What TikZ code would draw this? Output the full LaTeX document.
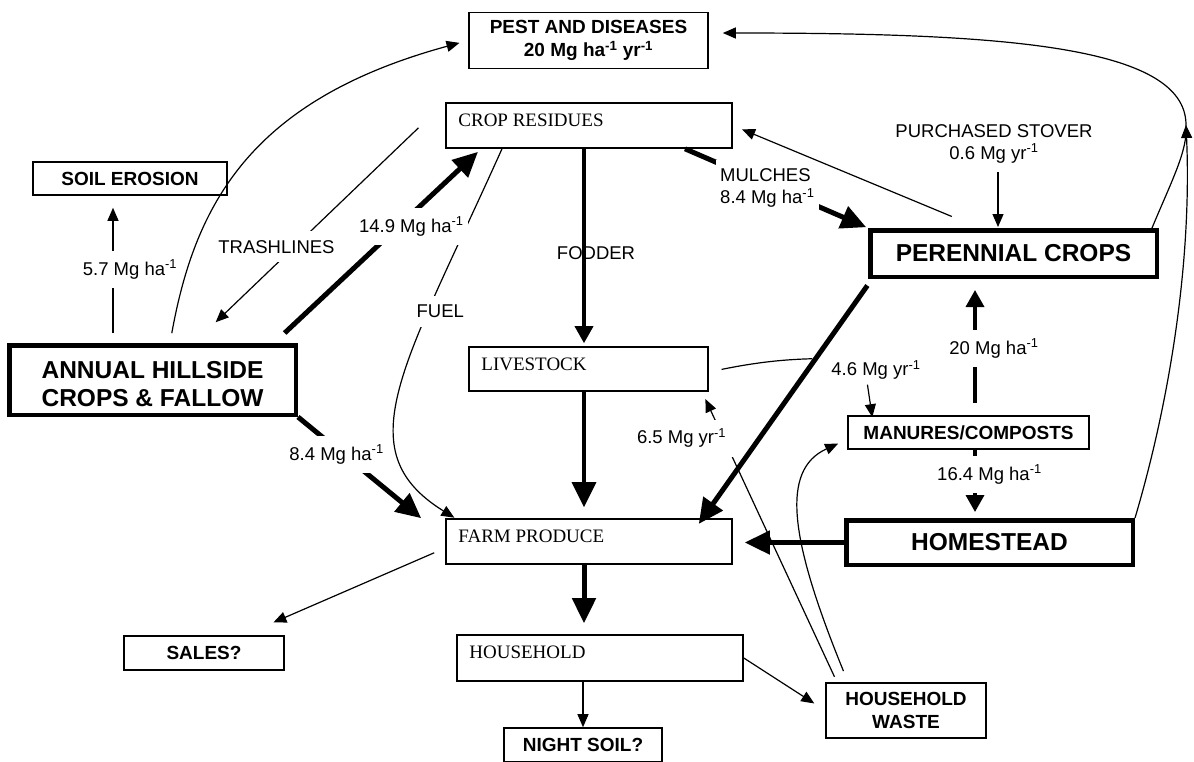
\documentclass[tikz,border=0pt]{standalone}
\usepackage{fontspec}
\setmainfont{Liberation Serif}
\newfontfamily\arial{Liberation Sans}
\usetikzlibrary{arrows.meta}

\tikzset{
  box/.style={draw, line width=1.6pt, inner sep=0pt, align=center,
    font=\arial\bfseries\fontsize{19}{23}\selectfont},
  bigbox/.style={draw, line width=4.5pt, inner sep=0pt, align=center,
    font=\arial\bfseries\fontsize{24.5}{28}\selectfont},
  tbox/.style={draw, line width=1.6pt, inner sep=0pt},
  ttext/.style={font=\fontsize{19}{22}\selectfont, anchor=west, inner sep=0pt,
    xshift=13pt, yshift=-18.5pt},
  lbl/.style={font=\arial\fontsize{18.5}{22}\selectfont, inner sep=2pt},
  brk/.style={lbl, fill=white, inner xsep=4pt, inner ysep=9pt},
  flowline/.style={line width=1.2pt},
  flow/.style={line width=1.2pt, -{Triangle[length=13pt, width=11pt]}},
  medflow/.style={line width=3.5pt, -{Triangle[length=17pt, width=18pt]}},
  bigflow/.style={line width=5pt, -{Triangle[length=25pt, width=23pt]}}
}

\begin{document}
\begin{tikzpicture}[x=1pt, y=-1pt]
\useasboundingbox (0,0) rectangle (1194,761);
\clip (0,0) rectangle (1194,761);

% main compartments
\node[bigbox, minimum width=286.5pt, minimum height=69.5pt,
  label={[font=\arial\bfseries\fontsize{24.5}{28}\selectfont, align=center, yshift=-4pt]center:ANNUAL HILLSIDE\\CROPS \& FALLOW}] (annual) at (152.5,380) {};
\node[bigbox, minimum width=286.5pt, minimum height=46.5pt] (perennial) at (1013.5,253.5) {PERENNIAL CROPS};
\node[bigbox, minimum width=286.5pt, minimum height=44.5pt] (homestead) at (989.5,542.5) {HOMESTEAD};

% pools
\node[tbox, minimum width=286pt, minimum height=45pt, label={[ttext]north west:CROP RESIDUES}] (cropres) at (589,125.5) {};
\node[tbox, minimum width=239pt, minimum height=44pt, label={[ttext]north west:LIVESTOCK}] (livestock) at (588.5,369) {};
\node[tbox, minimum width=286pt, minimum height=45pt, label={[ttext]north west:FARM PRODUCE}] (farm) at (589,541.5) {};
\node[tbox, minimum width=286pt, minimum height=46pt, label={[ttext]north west:HOUSEHOLD}] (household) at (600,658) {};

% sinks and sources
\node[box, minimum width=239pt, minimum height=56pt] (pest) at (588.5,40.5) {PEST AND DISEASES\\20 Mg ha\textsuperscript{-1} yr\textsuperscript{-1}};
\node[box, minimum width=194pt, minimum height=33pt] (soil) at (130,178.5) {SOIL EROSION};
\node[box, minimum width=241pt, minimum height=33pt] (manures) at (968.5,432.5) {MANURES/COMPOSTS};
\node[box, minimum width=160pt, minimum height=34pt] (sales) at (204,653) {SALES?};
\node[box, minimum width=160pt, minimum height=55pt] (waste) at (906,710.5) {HOUSEHOLD\\WASTE};
\node[box, minimum width=158pt, minimum height=34pt] (nightsoil) at (583,745) {NIGHT SOIL?};

\node[lbl, align=center] (stover) at (994,143.5) {PURCHASED STOVER\\0.6 Mg yr\textsuperscript{-1}};
\node[lbl] (l46) at (876,370) {4.6 Mg yr\textsuperscript{-1}};
\coordinate (pk) at (1186,125);

% fuel first, the 14.9 label covers it
\draw[flow, shorten >=1pt] ([xshift=-87pt]cropres.south) .. controls (405,365) and (345,450) .. ([xshift=10pt]farm.north west)
  node[brk, pos=.3, xshift=12pt] (fuel) {FUEL};

% hillside flows
\draw[flow, shorten <=10pt, shorten >=12pt] ([xshift=-39.5pt]annual.north) -- ([xshift=-17pt]soil.south)
  node[brk, pos=.5, xshift=17pt] (l57) {5.7 Mg ha\textsuperscript{-1}};
\draw[flow, shorten <=10pt, shorten >=9pt] ([xshift=17.5pt]annual.north) .. controls (195,205) and (250,100) .. (pest.west);
\draw[flow, shorten <=37pt, shorten >=30pt] (cropres.north west) -- ([xshift=41.5pt]annual.north)
  node[brk, pos=.6, xshift=-18pt] (trash) {TRASHLINES};
\draw[bigflow, shorten <=14.6pt, shorten >=4.4pt] ([xshift=-24pt]annual.north east) -- ([xshift=36pt]cropres.south west)
  node[brk, pos=.6, xshift=13pt] (l149) {14.9 Mg ha\textsuperscript{-1}};
\draw[bigflow] (annual.south east) -- ([xshift=-24pt]farm.north west)
  node[brk, pos=.37, xshift=-7pt] (l84) {8.4 Mg ha\textsuperscript{-1}};

% residues
\draw[medflow, shorten >=3pt] ([xshift=-5pt]cropres.south) -- ([xshift=-4.5pt]livestock.north)
  node[lbl, pos=.53, xshift=12pt] (fodder) {FODDER};
\draw[medflow, -{Triangle[length=25pt, width=24pt]}, shorten >=11pt] ([xshift=-4.5pt]livestock.south) -- ([xshift=-5pt]farm.north);
\draw[bigflow, shorten >=2pt] ([xshift=96pt]cropres.south) -- (perennial.north west)
  node[brk, align=left, pos=.45, yshift=-4pt] (mulch) {MULCHES\\8.4 Mg ha\textsuperscript{-1}};

% perennial crops
\draw[flow, shorten <=30pt, shorten >=10pt] ([xshift=-34pt]perennial.north) -- (cropres.east);
\draw[flow, shorten <=7pt, shorten >=1pt] ([xshift=4pt]stover.south) -- ([xshift=-15.5pt]perennial.north);
\draw[flow, shorten >=14pt] ([xshift=-7pt]perennial.north east) .. controls (1172,180) and (1188,150) .. (pk)
  .. controls (1186,45) and (1000,33) .. ([yshift=7.5pt]pest.east);
\draw[flow] (homestead.north east) .. controls (1170,400) and (1192,260) .. (pk);
\draw[bigflow, shorten <=8pt, shorten >=-7pt] ([xshift=4pt]perennial.south west) -- ([xshift=-30pt]farm.north east);

% manures
\draw[medflow, shorten <=12pt, shorten >=11pt] ([xshift=6.5pt]manures.north) -- ([xshift=-38.5pt]perennial.south)
  node[brk, pos=.49, xshift=19pt] (l20) {20 Mg ha\textsuperscript{-1}};
\draw[medflow, shorten >=6pt] ([xshift=6.5pt]manures.south) -- ([xshift=-14.5pt]homestead.north)
  node[brk, pos=.36, xshift=14.5pt] (l164) {16.4 Mg ha\textsuperscript{-1}};
\draw[flowline, shorten <=13pt, shorten >=17pt] ([yshift=-3pt]livestock.east) to[bend left=5] (l46.north west);
\draw[flow, shorten <=3pt, shorten >=-2pt] ([xshift=-9pt]l46.south) -- ([xshift=-96.5pt]manures.north);

% household waste
\draw[flow, shorten <=6pt, shorten >=8pt] ([xshift=-69pt]waste.north) -- ([xshift=113.5pt]livestock.south)
  node[brk, pos=.84, xshift=-42pt, inner xsep=8pt] (l65) {6.5 Mg yr\textsuperscript{-1}};
\draw[flow, shorten <=12pt, shorten >=10pt] ([xshift=-58pt]waste.north) .. controls (790,540) and (780,470) .. ([yshift=-7pt]manures.west);

% produce
\draw[bigflow, shorten >=12pt] (homestead.west) -- (homestead.west -| farm.east);
\draw[flow, shorten <=12pt, shorten >=32pt] ([yshift=-6.5pt]farm.west) -- ([xshift=40pt]sales.north);
\draw[bigflow, shorten >=11pt] ([xshift=-5pt]farm.south) -- ([xshift=-16pt]household.north);
\draw[flow] ([xshift=-17pt]household.south) -- (nightsoil.north);
\draw[flow, shorten >=13pt] (household.east) -- (waste.west);
\end{tikzpicture}
\end{document}
